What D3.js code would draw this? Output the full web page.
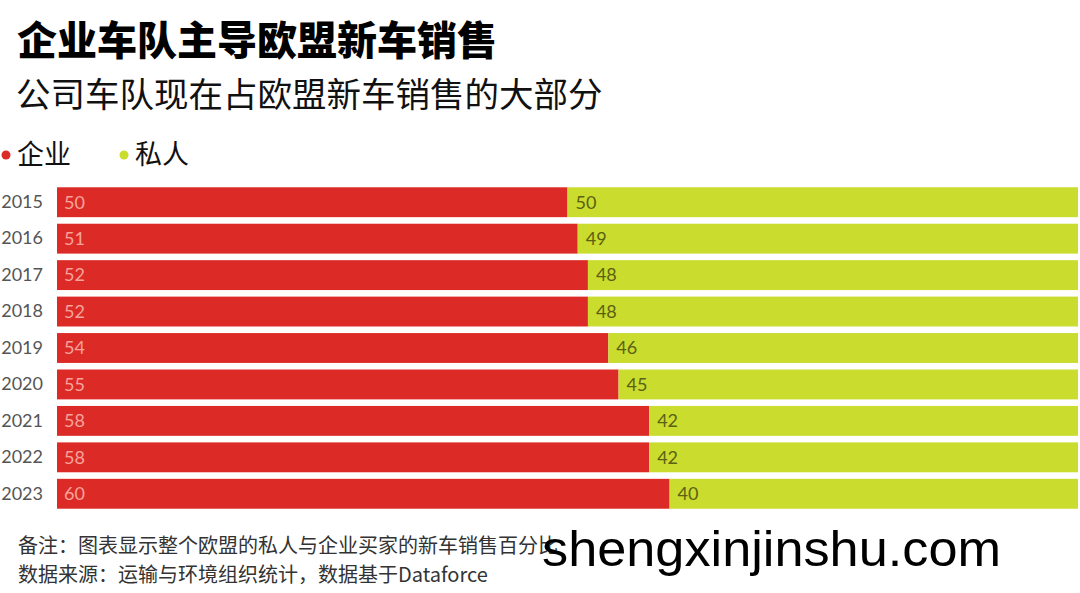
<!DOCTYPE html>
<html><head><meta charset="utf-8">
<script src="https://cdn.jsdelivr.net/npm/d3@7"></script>
<style>
html,body{margin:0;padding:0;background:#fff;}
svg{display:block;font-family:"Noto Sans CJK SC","Noto Sans",sans-serif;}
</style></head>
<body>
<svg id="chart" width="1080" height="593"></svg>
<script>
const years = ["2015","2016","2017","2018","2019","2020","2021","2022","2023"];
const corporate = [50,51,52,52,54,55,58,58,60];
const privateShare = [50,49,48,48,46,45,42,42,40];
const seriesNames = ["企业","私人"];
const colors = ["#dc2b27","#cadc2e"];

const svg = d3.select("#chart");
const margin = {left:57, right:2};
const W = 1080, H = 593;

const x = d3.scaleLinear().domain([0,100]).range([margin.left, W - margin.right]);
const y = d3.scaleBand().domain(years).range([184, 512]).paddingInner(0.18).paddingOuter(0.09);

// Title
svg.append("text").attr("x",17).attr("y",55).attr("font-size",40).attr("font-weight",900)
  .attr("fill","#000").text("企业车队主导欧盟新车销售");
svg.append("text").attr("x",16).attr("y",107).attr("font-size",34.5).attr("font-weight",400)
  .attr("fill","#111").text("公司车队现在占欧盟新车销售的大部分");

// Legend
const legendX = [6,124];
seriesNames.forEach((n,i)=>{
  svg.append("circle").attr("cx",legendX[i]).attr("cy",155).attr("r",4.5).attr("fill",colors[i]);
  svg.append("text").attr("x",legendX[i]+11).attr("y",164).attr("font-size",27).attr("fill","#111").text(n);
});

const rows = years.map((yr,i)=>({year:yr, c:corporate[i], p:privateShare[i]}));

// Bars
const g = svg.append("g");
g.selectAll("rect.c").data(rows).join("rect").attr("class","c")
  .attr("x",x(0)).attr("y",d=>y(d.year)).attr("width",d=>x(d.c)-x(0)).attr("height",y.bandwidth())
  .attr("fill",colors[0]);
g.selectAll("rect.p").data(rows).join("rect").attr("class","p")
  .attr("x",d=>x(d.c)).attr("y",d=>y(d.year)).attr("width",d=>x(d.c+d.p)-x(d.c)).attr("height",y.bandwidth())
  .attr("fill",colors[1]);

// Value labels
g.selectAll("text.cl").data(rows).join("text").attr("class","cl")
  .attr("x",x(0)+7).attr("y",d=>y(d.year)+y.bandwidth()/2).attr("dy","0.35em")
  .attr("font-size",18).attr("fill","#f7a39c").attr("font-family","Lato, 'Noto Sans', sans-serif")
  .text(d=>d.c);
g.selectAll("text.pl").data(rows).join("text").attr("class","pl")
  .attr("x",d=>x(d.c)+8).attr("y",d=>y(d.year)+y.bandwidth()/2).attr("dy","0.35em")
  .attr("font-size",18).attr("fill","#5b6114").attr("font-family","Lato, 'Noto Sans', sans-serif")
  .text(d=>d.p);

// Y axis
const yAxis = d3.axisLeft(y).tickSize(0).tickPadding(0);
const ag = svg.append("g").attr("transform",`translate(${margin.left-14},0)`).call(yAxis);
ag.select(".domain").remove();
ag.selectAll("text").attr("font-size",18).attr("fill","#555")
  .attr("font-family","Lato, 'Noto Sans', sans-serif");

// Footer
svg.append("text").attr("x",18).attr("y",553).attr("font-size",20).attr("fill","#333")
  .text("备注：图表显示整个欧盟的私人与企业买家的新车销售百分比");
svg.append("text").attr("x",18).attr("y",582).attr("font-size",20).attr("fill","#333")
  .text("数据来源：运输与环境组织统计，数据基于Dataforce");

// Watermark
svg.append("text").attr("x",542).attr("y",566).attr("font-size",50).attr("fill","#000")
  .attr("font-family","'Liberation Sans', Arial, sans-serif")
  .attr("textLength",459).attr("lengthAdjust","spacingAndGlyphs")
  .text("shengxinjinshu.com");
</script>
</body></html>
